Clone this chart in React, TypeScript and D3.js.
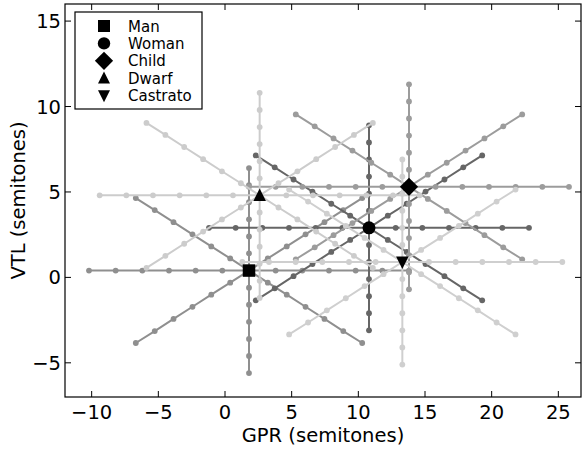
import React from "react";
import * as d3 from "d3";

// Speakers (categories) and their centre positions (semitones)
const speakers = ["Man", "Woman", "Child", "Dwarf", "Castrato"];
const gprCenters = [1.8, 10.8, 13.8, 2.6, 13.3];
const vtlCenters = [0.4, 2.9, 5.3, 4.8, 0.9];
const speakerShades = ["#8f8f8f", "#666666", "#9c9c9c", "#cccccc", "#cfcfcf"];
const markerShapes = ["square", "circle", "diamond", "triangleUp", "triangleDown"];

// Offsets (semitones) of the scaled voices along the four radial lines
const hGprOffsets = [-12, -10, -8, -6, -4, -2, 0, 2, 4, 6, 8, 10, 12];
const hVtlOffsets = [0, 0, 0, 0, 0, 0, 0, 0, 0, 0, 0, 0, 0];
const vGprOffsets = [0, 0, 0, 0, 0, 0, 0, 0, 0, 0, 0, 0, 0];
const vVtlOffsets = [-6, -5, -4, -3, -2, -1, 0, 1, 2, 3, 4, 5, 6];
const dGprOffsets = [-8.49, -7.07, -5.66, -4.24, -2.83, -1.41, 0, 1.41, 2.83, 4.24, 5.66, 7.07, 8.49];
const dUpVtlOffsets = [-4.24, -3.54, -2.83, -2.12, -1.41, -0.71, 0, 0.71, 1.41, 2.12, 2.83, 3.54, 4.24];
const dDownVtlOffsets = [4.24, 3.54, 2.83, 2.12, 1.41, 0.71, 0, -0.71, -1.41, -2.12, -2.83, -3.54, -4.24];

const xTicks = [-10, -5, 0, 5, 10, 15, 20, 25];
const yTicks = [-5, 0, 5, 10, 15];

const W = 584;
const H = 450;
const L = 65, R = 581, T = 4, B = 397;
const FONT = "DejaVu Sans, sans-serif";

function markerPath(shape: string, cx: number, cy: number, s: number): string {
  switch (shape) {
    case "square":
      return `M${cx - s / 2},${cy - s / 2}h${s}v${s}h${-s}Z`;
    case "diamond": {
      const d = s * 0.7;
      return `M${cx},${cy - d}L${cx + d},${cy}L${cx},${cy + d}L${cx - d},${cy}Z`;
    }
    case "triangleUp":
      return `M${cx},${cy - s * 0.55}L${cx + s * 0.5},${cy + s * 0.45}L${cx - s * 0.5},${cy + s * 0.45}Z`;
    case "triangleDown":
      return `M${cx},${cy + s * 0.55}L${cx + s * 0.5},${cy - s * 0.45}L${cx - s * 0.5},${cy - s * 0.45}Z`;
    default:
      return "";
  }
}

export default function App() {
  const x = d3.scaleLinear().domain([-12, 26.7]).range([L, R]);
  const y = d3.scaleLinear().domain([-7, 16]).range([B, T]);
  const line = d3
    .line<[number, number]>()
    .x((d) => x(d[0]))
    .y((d) => y(d[1]));

  const dirs: [number[], number[]][] = [
    [hGprOffsets, hVtlOffsets],
    [vGprOffsets, vVtlOffsets],
    [dGprOffsets, dUpVtlOffsets],
    [dGprOffsets, dDownVtlOffsets],
  ];

  const legendX = 75, legendY = 12, legendW = 127, legendH = 97;

  return (
    <svg
      width={W}
      height={H}
      style={{ position: "absolute", left: 0, top: 0, background: "#fff" }}
      fontFamily={FONT}
    >
      <rect x={0} y={0} width={W} height={H} fill="#fff" />
      <defs>
        <clipPath id="plot">
          <rect x={L} y={T} width={R - L} height={B - T} />
        </clipPath>
      </defs>
      <g clipPath="url(#plot)">
        {speakers.map((sp, i) => (
          <g key={sp}>
            {dirs.map(([gx, vy], k) => {
              const pts: [number, number][] = gx.map((g, j) => [
                gprCenters[i] + g,
                vtlCenters[i] + vy[j],
              ]);
              return (
                <g key={k}>
                  <path d={line(pts) || ""} fill="none" stroke={speakerShades[i]} strokeWidth={2} />
                  {pts.map((p, j) => (
                    <circle key={j} cx={x(p[0])} cy={y(p[1])} r={2.9} fill={speakerShades[i]} />
                  ))}
                </g>
              );
            })}
          </g>
        ))}
        {speakers.map((sp, i) =>
          markerShapes[i] === "circle" ? (
            <circle key={sp} cx={x(gprCenters[i])} cy={y(vtlCenters[i])} r={6.5} fill="#000" />
          ) : (
            <path
              key={sp}
              d={markerPath(markerShapes[i], x(gprCenters[i]), y(vtlCenters[i]), markerShapes[i] === "diamond" ? 13 : 12.5)}
              fill="#000"
            />
          )
        )}
      </g>

      {/* frame */}
      <rect x={L} y={T} width={R - L} height={B - T} fill="none" stroke="#000" strokeWidth={1.2} />

      {/* ticks */}
      {xTicks.map((t) => (
        <g key={"x" + t}>
          <line x1={x(t)} x2={x(t)} y1={B} y2={B - 6} stroke="#000" strokeWidth={1} />
          <line x1={x(t)} x2={x(t)} y1={T} y2={T + 6} stroke="#000" strokeWidth={1} />
          <text x={x(t)} y={419} textAnchor="middle" fontSize={19.5} fill="#000">
            {t < 0 ? "\u2212" + Math.abs(t) : String(t)}
          </text>
        </g>
      ))}
      {yTicks.map((t) => (
        <g key={"y" + t}>
          <line x1={L} x2={L + 6} y1={y(t)} y2={y(t)} stroke="#000" strokeWidth={1} />
          <line x1={R} x2={R - 6} y1={y(t)} y2={y(t)} stroke="#000" strokeWidth={1} />
          <text x={61} y={y(t) + 7} textAnchor="end" fontSize={19.5} fill="#000">
            {t < 0 ? "\u2212" + Math.abs(t) : String(t)}
          </text>
        </g>
      ))}

      {/* axis labels */}
      <text x={(L + R) / 2} y={442} textAnchor="middle" fontSize={19.5} fill="#000">
        GPR (semitones)
      </text>
      <text
        transform={`translate(25,${(T + B) / 2}) rotate(-90)`}
        textAnchor="middle"
        fontSize={19.5}
        fill="#000"
      >
        VTL (semitones)
      </text>

      {/* legend */}
      <rect x={legendX} y={legendY} width={legendW} height={legendH} fill="#fff" stroke="#000" strokeWidth={1.2} />
      {speakers.map((sp, i) => {
        const cy = 26 + i * 17.4;
        return (
          <g key={"lg" + sp}>
            {markerShapes[i] === "circle" ? (
              <circle cx={104} cy={cy} r={6.2} fill="#000" />
            ) : (
              <path d={markerPath(markerShapes[i], 104, cy, markerShapes[i] === "diamond" ? 13 : 12)} fill="#000" />
            )}
            <text x={128} y={cy + 5.5} fontSize={15} fill="#000">
              {sp}
            </text>
          </g>
        );
      })}
    </svg>
  );
}
